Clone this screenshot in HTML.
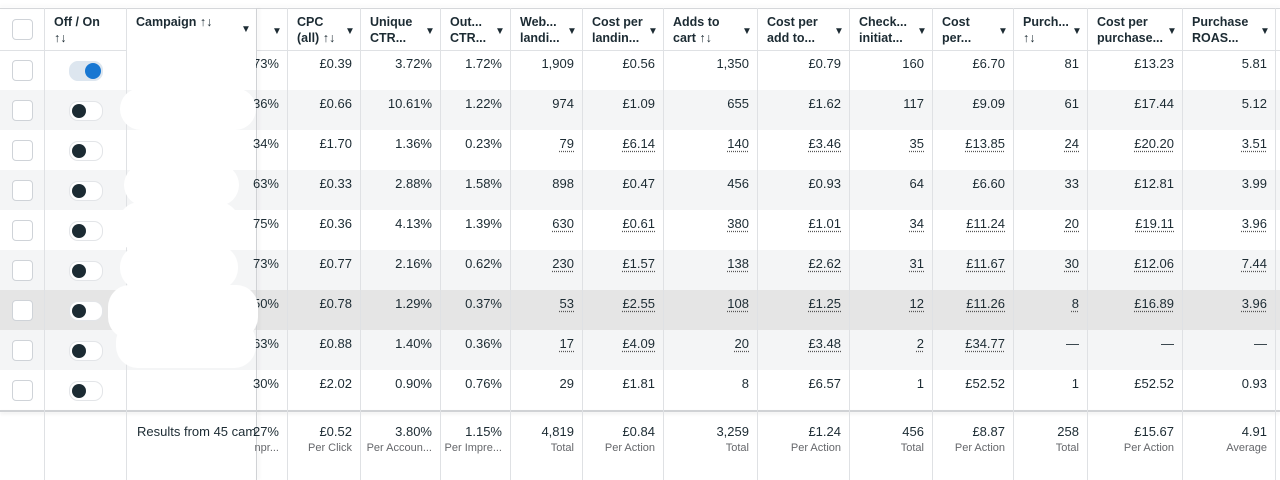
<!DOCTYPE html>
<html><head><meta charset="utf-8">
<style>
body{margin:0;width:1280px;height:480px;overflow:hidden;background:#fff;font-family:"Liberation Sans",sans-serif;color:#1c2b33;}
#t{position:absolute;left:0;top:0;width:1280px;height:480px;}
.c{position:absolute;font-size:13px;box-sizing:border-box;white-space:nowrap;}
.h{font-weight:bold;font-size:12px;line-height:16px;}
.vl{position:absolute;width:1px;background:#dfe1e4;}
.hl{position:absolute;height:1px;background:#dfe1e4;left:0;width:1280px;}
.dot{text-decoration:underline dotted #555;text-underline-offset:3px;}
.cb{position:absolute;width:19px;height:19px;border:1px solid #cfd3d8;border-radius:4px;background:#fff;}
.tg{position:absolute;width:32px;height:18px;border-radius:9px;background:#fff;border:1px solid #e3e5e8;}
.tg i{position:absolute;left:2px;top:2px;width:14px;height:14px;border-radius:7px;background:#1c2b33;}
.arr{position:absolute;font-size:10px;}
.sub{color:#65676b;font-size:11px;line-height:19px;}
.blob{position:absolute;background:#fff;border-radius:22px;}
</style></head><body>
<div id="t"></div>
<script>
const headers=["","Off / On\n↑↓","Campaign ↑↓","","CPC\n(all) ↑↓","Unique\nCTR...","Out...\nCTR...","Web...\nlandi...","Cost per\nlandin...","Adds to\ncart ↑↓","Cost per\nadd to...","Check...\ninitiat...","Cost\nper...","Purch...\n↑↓","Cost per\npurchase...","Purchase\nROAS..."];
const cutCol=["73%","36%","34%","63%","75%","73%","50%","63%","30%"];
const cpc=["£0.39","£0.66","£1.70","£0.33","£0.36","£0.77","£0.78","£0.88","£2.02"];
const uniqueCtr=["3.72%","10.61%","1.36%","2.88%","4.13%","2.16%","1.29%","1.40%","0.90%"];
const outCtr=["1.72%","1.22%","0.23%","1.58%","1.39%","0.62%","0.37%","0.36%","0.76%"];
const webLanding=["1,909","974","79","898","630","230","53","17","29"];
const costLanding=["£0.56","£1.09","£6.14","£0.47","£0.61","£1.57","£2.55","£4.09","£1.81"];
const addsCart=["1,350","655","140","456","380","138","108","20","8"];
const costAdd=["£0.79","£1.62","£3.46","£0.93","£1.01","£2.62","£1.25","£3.48","£6.57"];
const checkouts=["160","117","35","64","34","31","12","2","1"];
const costCheckout=["£6.70","£9.09","£13.85","£6.60","£11.24","£11.67","£11.26","£34.77","£52.52"];
const purchases=["81","61","24","33","20","30","8","—","1"];
const costPurchase=["£13.23","£17.44","£20.20","£12.81","£19.11","£12.06","£16.89","—","£52.52"];
const roas=["5.81","5.12","3.51","3.99","3.96","7.44","3.96","—","0.93"];
const dotted=[false,false,true,false,true,true,true,true,false];
const totals=["27%","£0.52","3.80%","1.15%","4,819","£0.84","3,259","£1.24","456","£8.87","258","£15.67","4.91"];
const totalSub=["npr...","Per Click","Per Accoun...","Per Impre...","Total","Per Action","Total","Per Action","Total","Per Action","Total","Per Action","Average"];
const cols=[0,44,126,256,287,360,440,510,582,663,757,849,932,1013,1087,1182,1275];
const data=[cutCol,cpc,uniqueCtr,outCtr,webLanding,costLanding,addsCart,costAdd,checkouts,costCheckout,purchases,costPurchase,roas];
const T=document.getElementById('t');
function add(cls,css,html){const d=document.createElement('div');d.className=cls;d.style.cssText=css;if(html!==undefined)d.innerHTML=html;T.appendChild(d);return d;}
const rowBg=["#fff","#f4f5f6","#fff","#f4f5f6","#fff","#f4f5f6","#e5e5e5","#f4f5f6","#fff"];
for(let r=0;r<9;r++){const d=add('', `position:absolute;left:0;top:${50+r*40}px;width:1280px;height:40px;background:${rowBg[r]}`);

}
add('hl','top:8px;background:#d5d7da;box-shadow:0 -2px 3px rgba(0,0,0,.08)');
add('hl','top:50px');
add('hl','top:410px;height:2px;background:#d0d2d5;box-shadow:0 2px 3px rgba(0,0,0,.08)');
for(let i=1;i<cols.length;i++){add('vl',`left:${cols[i]}px;top:8px;height:472px;`+(i==3?'box-shadow:2px 0 3px rgba(0,0,0,.1);background:#d0d2d5':''));}
for(let i=1;i<headers.length;i++){
  const x=cols[i],w=cols[i+1]-cols[i];
  const h=add('c h',`left:${x+10}px;top:14px;width:${w-10}px;font-size:12.5px`,headers[i].replace('\n','<br>'));
  
  
  if(i>=2){const a=add('arr',`left:${x+w-15}px;top:${i==2?24:26}px`,'▼');
  
  }
}
const hc=add('cb','left:12px;top:19px');


for(let r=0;r<9;r++){
  const y=50+r*40;
  const cb=add('cb',`left:12px;top:${y+10}px`);
  
  
  const tg=add('tg',`left:69px;top:${y+11}px;`+(r==0?'background:#dde6ef;border-color:#dde6ef':''),r==0?'<i style="left:15px;background:#1877d2;width:16px;height:16px;top:1px;border-radius:8px"></i>':'<i></i>');
  
  
  for(let c=0;c<data.length;c++){
    const x=cols[c+3],w=cols[c+4]-cols[c+3];
    let v=data[c][r];
    const dd=dotted[r]&&c>=4&&v!=='—';
    const e=add('c',`left:${x}px;top:${y+6}px;width:${w-8}px;text-align:right;${c==0?'left:'+(x-10)+'px;width:'+(w+2)+'px;overflow:hidden;':''}`,dd?'<span class="dot">'+v+'</span>':v);
    
    
  }
}
const blobs=[[120,88,136,42],[124,164,115,42],[118,202,122,50],[120,245,118,45],[108,285,150,54],[116,320,140,48]];
blobs.forEach(b=>{const e=add('blob',`left:${b[0]}px;top:${b[1]}px;width:${b[2]}px;height:${b[3]}px`);

});
add('', 'position:absolute;left:127px;top:50px;width:129px;height:40px;background:#fff');
const ft=add('c',`left:137px;top:424px;width:119px;overflow:hidden`,'Results from 45 campaigns');


for(let c=0;c<totals.length;c++){
  const x=cols[c+3],w=cols[c+4]-cols[c+3];
  const e=add('c',`left:${c==0?x-10:x}px;top:424px;width:${c==0?w+2:w-8}px;text-align:right;overflow:hidden`,totals[c]+'<br><span class="sub">'+totalSub[c]+'</span>');
  
  
}
</script>
</body></html>
